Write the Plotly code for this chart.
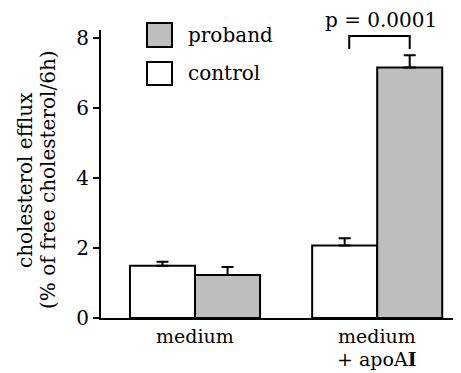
import plotly.graph_objects as go

categories = ["medium", "medium<br>+ apoA<b>I</b>"]
control_values = [1.49, 2.07]
control_errors = [0.12, 0.21]
proband_values = [1.23, 7.16]
proband_errors = [0.23, 0.35]
y_ticks = [0, 2, 4, 6, 8]
y_title_lines = ["cholesterol efflux", "(% of free cholesterol/6h)"]
p_label = "p = 0.0001"

FONT = "DejaVu Serif"
BODY = 8  # default page margin around the plot div
W, H = 461 - BODY, 373 - BODY
PLOT_L, PLOT_T, PLOT_R, PLOT_B = 101, 30, 461, 318  # plot area in window pixels
ML, MT = PLOT_L - BODY, PLOT_T - BODY
MR, MB = (W + BODY) - PLOT_R, (H + BODY) - PLOT_B
PW, PH = PLOT_R - PLOT_L, PLOT_B - PLOT_T

def px_x(px):
    return (px - PLOT_L) / PW

def px_y(py):
    return (PLOT_B - py) / PH

fig = go.Figure()
err_style = dict(type="data", symmetric=False, thickness=2, width=6, color="black")
fig.add_trace(go.Bar(
    x=categories, y=control_values, name="control",
    marker=dict(color="white", line=dict(color="black", width=2)),
    error_y=dict(array=control_errors, arrayminus=[0] * len(control_errors), **err_style),
    showlegend=False,
))
fig.add_trace(go.Bar(
    x=categories, y=proband_values, name="proband",
    marker=dict(color="#bebebe", line=dict(color="black", width=2)),
    error_y=dict(array=proband_errors, arrayminus=[0] * len(proband_errors), **err_style),
    showlegend=False,
))

bargap = 0.286
bw = (1 - bargap) / 2

# significance bracket between the two apoAI bars
x_left = 1 - bw / 2 + 0.025
x_right = 1 + bw / 2
y_bot = proband_values[1] + proband_errors[1] + 0.18
y_top = y_bot + 0.37
fig.add_shape(type="path", xref="x", yref="y",
              path=f"M {x_left},{y_bot} L {x_left},{y_top} L {x_right},{y_top} L {x_right},{y_bot}",
              line=dict(color="black", width=2))
fig.add_annotation(x=(x_left + x_right) / 2 + 0.01, y=px_y(20), xref="x", yref="paper",
                   text=p_label, showarrow=False, yanchor="middle",
                   font=dict(family=FONT, size=20, color="black"))

# legend drawn manually (large swatches)
legend_items = [("proband", "#bebebe", 23, 47), ("control", "white", 62, 85)]
for name, col, top, bot in legend_items:
    fig.add_shape(type="rect", xref="paper", yref="paper",
                  x0=px_x(147), x1=px_x(172), y0=px_y(bot), y1=px_y(top),
                  fillcolor=col, line=dict(color="black", width=2))
    fig.add_annotation(x=px_x(186), y=px_y((top + bot) / 2), xref="paper", yref="paper",
                       text=name, showarrow=False, xanchor="left", yanchor="middle",
                       font=dict(family=FONT, size=20, color="black"))

# category labels (drawn line by line for tighter spacing)
for cat in categories:
    for i, line in enumerate(cat.split("<br>")):
        fig.add_annotation(x=cat, y=0, xref="x", yref="paper", text=line, showarrow=False,
                           yanchor="middle", yshift=-18 - 23 * i,
                           font=dict(family=FONT, size=19, color="black"))

# y axis title, two rotated lines
for i, line in enumerate(y_title_lines):
    fig.add_annotation(x=px_x(25 + 23 * i), y=px_y(180), xref="paper", yref="paper",
                       text=line, showarrow=False, textangle=-90,
                       xanchor="center", yanchor="middle",
                       font=dict(family=FONT, size=20, color="black"))

fig.update_layout(width=W, height=H, margin=dict(l=ML, r=MR, t=MT, b=MB, pad=0),
                  barmode="group", bargap=bargap, bargroupgap=0, showlegend=False,
                  plot_bgcolor="white", paper_bgcolor="white")
fig.update_xaxes(type="category", range=[-0.516, 1.46], showticklabels=False,
                 showline=True, linecolor="black", linewidth=2, showgrid=False, zeroline=False)
fig.update_yaxes(range=[0, 8.23], tickvals=y_ticks, ticksuffix="\u2009",
                 ticks="outside", ticklen=6, tickwidth=2, tickcolor="black",
                 showline=True, linecolor="black", linewidth=2, showgrid=False, zeroline=False,
                 tickfont=dict(family=FONT, size=20, color="black"))
fig.write_html("out.html")
